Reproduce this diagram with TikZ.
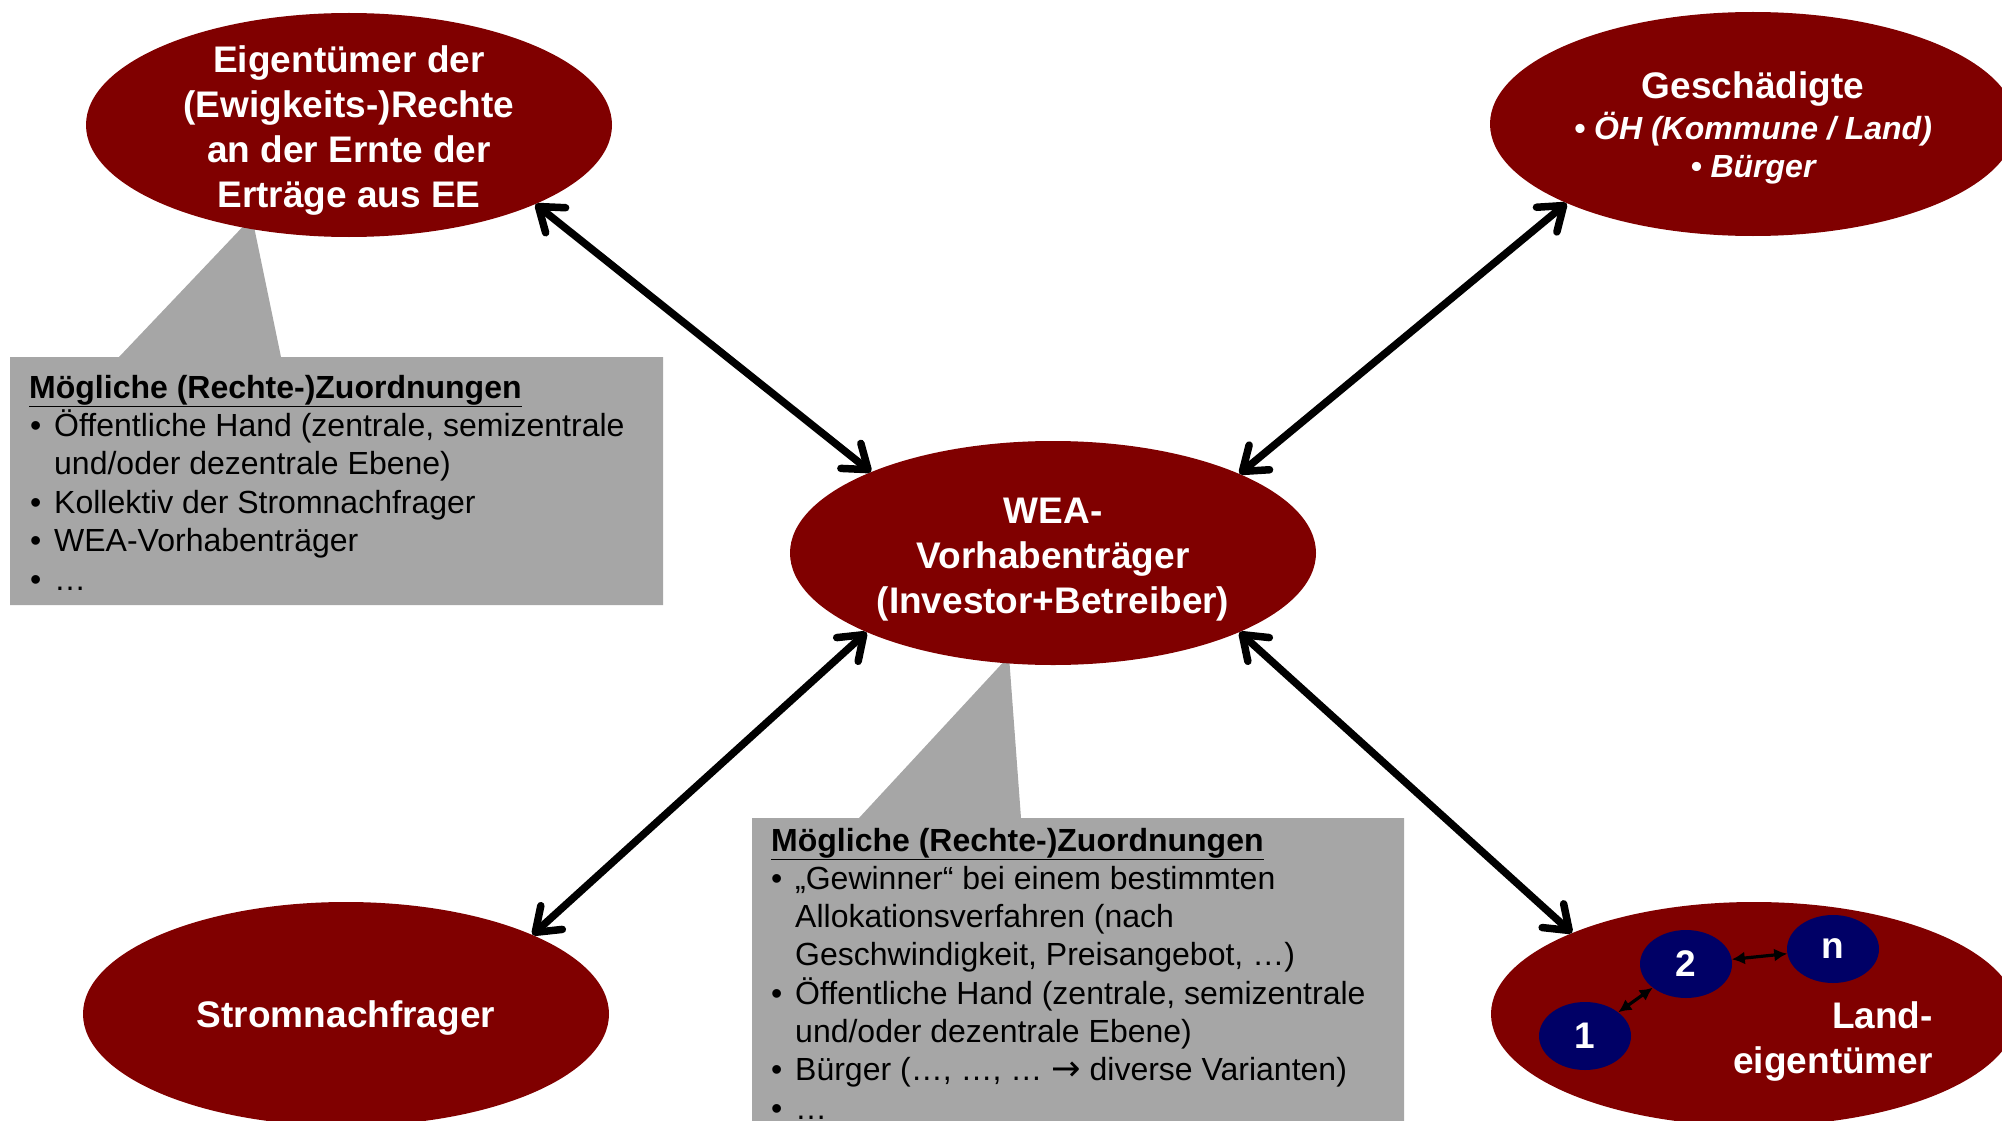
\documentclass[tikz,border=0pt]{standalone}
\usepackage{fontspec}
\setmainfont{Liberation Sans}
\newfontfamily\arrowfont{DejaVu Sans}
\usetikzlibrary{arrows.meta,shapes.geometric}
\definecolor{dred}{HTML}{800000}
\definecolor{navyblue}{HTML}{000066}
\definecolor{boxgray}{HTML}{A6A6A6}
\begin{document}
\begin{tikzpicture}[x=1pt,y=-1pt,
  bigell/.style={ellipse, fill=dred, minimum width=526pt, minimum height=224pt, inner sep=0pt},
  smallell/.style={ellipse, fill=navyblue, minimum width=92pt, minimum height=68pt, inner sep=0pt,
    text=white, font=\fontsize{37}{44}\selectfont\bfseries},
  etext/.style={text=white, align=center, inner sep=0pt, font=\fontsize{37}{45}\selectfont\bfseries},
  gtext/.style={text=white, anchor=base, inner sep=0pt, font=\fontsize{32}{38}\selectfont\bfseries\itshape},
  conn/.style={line width=7.5pt, line cap=round,
    {Straight Barb[length=22pt,width=32pt,round]}-{Straight Barb[length=22pt,width=32pt,round]}},
  sconn/.style={line width=3.2pt, {Latex[length=13pt,width=13pt]}-{Latex[length=13pt,width=13pt]}},
  callout/.style={fill=boxgray},
  btext/.style={anchor=base west, inner sep=0pt, font=\fontsize{32}{38}\selectfont},
  bul/.style={btext},
]
\useasboundingbox (0,0) rectangle (2002,1121);
\clip (0,0) rectangle (2002,1121);

% callout boxes
\fill[callout] (10,357) -- (119,357) -- (252,217) -- (281,357) -- (663,357) -- (663,605) -- (10,605) -- cycle;
\fill[callout] (752,818) -- (859,818) -- (1009,656) -- (1021,818) -- (1404,818) -- (1404,1130) -- (752,1130) -- cycle;

% ellipses
\node[bigell] (E1) at (349,125) {};
\node[bigell] (G) at (1753,124) {};
\node[bigell] (W) at (1053,553) {};
\node[bigell] (S) at (346,1014) {};
\node[bigell] (L) at (1754,1014) {};

% ellipse texts
\node[etext] (E1t) at (349,131) {Eigentümer der\\(Ewigkeits-)Rechte\\an der Ernte der\\Erträge aus EE};
\node[etext, anchor=base] (Gt1) at (1753,99) {Geschädigte};
\node[gtext] (Gt2) at (1753,139.5) {• ÖH (Kommune / Land)};
\node[gtext] (Gt3) at (1753,177.5) {• Bürger};
\node[etext] (Wt) at (1053,560) {WEA-\\Vorhabenträger\\(Investor+Betreiber)};
\node[etext] (St) at (346,1018) {Stromnachfrager};
\node[etext, anchor=east, align=right] (Lt) at (1933,1042) {Land-\\eigentümer};

% small ellipses
\node[smallell] (n1) at (1585,1036) {1};
\node[smallell] (n2) at (1686,964) {2};
\node[smallell] (nn) at (1833,949) {n};
\draw[sconn] (n1) -- (n2);
\draw[sconn] (n2) -- (nn);

% connectors
\draw[conn] (E1.-23.5) -- (W.156.5);
\draw[conn] (G.203.5) -- (W.23.5);
\draw[conn] (W.203.5) -- (S.23.5);
\draw[conn] (W.-23.5) -- (L.156.5);

% box 1 text
\node[btext] (a0) at (29,398) {\textbf{\underline{Mögliche (Rechte-)Zuordnungen}}};
\node[bul] (a1) at (30,436.4) {\makebox[24pt][l]{•}Öffentliche Hand (zentrale, semizentrale};
\node[btext] (a2) at (54,474.8) {und/oder dezentrale Ebene)};
\node[bul] (a3) at (30,513.2) {\makebox[24pt][l]{•}Kollektiv der Stromnachfrager};
\node[bul] (a4) at (30,551.6) {\makebox[24pt][l]{•}WEA-Vorhabenträger};
\node[bul] (a5) at (30,590) {\makebox[24pt][l]{•}…};

% box 2 text
\node[btext] (b0) at (771,851) {\textbf{\underline{Mögliche (Rechte-)Zuordnungen}}};
\node[bul] (b1) at (771,889.3) {\makebox[24pt][l]{•}„Gewinner“ bei einem bestimmten};
\node[btext] (b2) at (795,927.6) {Allokationsverfahren (nach};
\node[btext] (b3) at (795,965.9) {Geschwindigkeit, Preisangebot, …)};
\node[bul] (b4) at (771,1004.2) {\makebox[24pt][l]{•}Öffentliche Hand (zentrale, semizentrale};
\node[btext] (b5) at (795,1042.5) {und/oder dezentrale Ebene)};
\node[bul] (b6) at (771,1080.8) {\makebox[24pt][l]{•}Bürger (…, …, … {\arrowfont\scalebox{1.1}{→}} diverse Varianten)};
\node[bul] (b7) at (771,1119.1) {\makebox[24pt][l]{•}…};
\end{tikzpicture}
\end{document}
